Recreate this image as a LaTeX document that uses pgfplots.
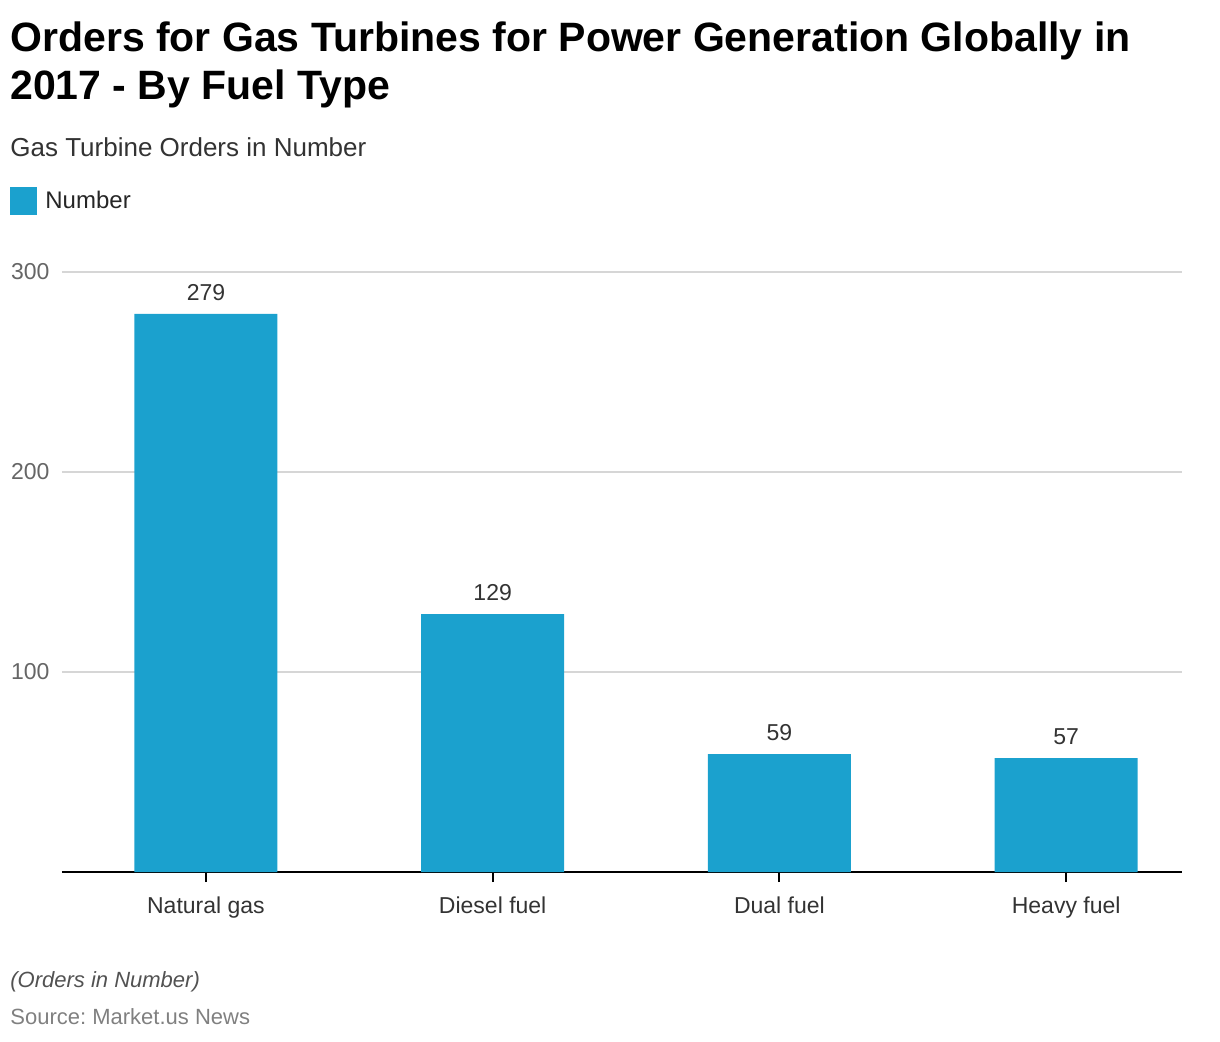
\documentclass[border=0pt]{standalone}
\usepackage{fontspec}
\setmainfont{Liberation Sans}
\usepackage{pgfplots}
\pgfplotsset{compat=1.18}
\frenchspacing
\definecolor{barblue}{HTML}{1BA1CE}
\definecolor{gridgray}{HTML}{D6D6D6}
\definecolor{ticktext}{HTML}{666666}
\definecolor{labtext}{HTML}{333333}
\begin{document}
\begin{tikzpicture}
% 1px = 0.5pt, picture 1220x1042 px
\path[use as bounding box] (0,0) rectangle (610pt,-521pt);
\node[anchor=base west,inner sep=0pt,font=\fontsize{20.5}{25}\selectfont\bfseries] at (5pt,-26pt) {Orders for Gas Turbines for Power Generation Globally in};
\node[anchor=base west,inner sep=0pt,font=\fontsize{20.5}{25}\selectfont\bfseries] at (5pt,-50pt) {2017 - By Fuel Type};
\node[anchor=base west,inner sep=0pt,font=\fontsize{13}{15}\selectfont,text=labtext] at (5pt,-78.5pt) {Gas Turbine Orders in Number};
\fill[barblue] (5pt,-93.5pt) rectangle (18.5pt,-107.5pt);
\node[anchor=base west,inner sep=0pt,font=\fontsize{12}{14}\selectfont,text=black!85] at (22.5pt,-104.5pt) {Number};
\node[anchor=base west,inner sep=0pt,font=\fontsize{11}{13}\selectfont\itshape,text=labtext!85] at (5pt,-493.5pt) {(Orders in Number)};
\node[anchor=base west,inner sep=0pt,font=\fontsize{11}{13}\selectfont,text=black!50] at (5pt,-512pt) {Source: Market.us News};
\begin{axis}[
    at={(31pt,-436pt)}, anchor=south west,
    scale only axis,
    width=560pt, height=300pt,
    xmin=-0.502, xmax=3.404,
    ymin=0, ymax=300,
    ybar, bar width=71.5pt,
    axis x line*=bottom, axis y line*=left,
    x axis line style={black, line width=1pt},
    y axis line style={draw=none},
    xtick={0,1,2,3},
    xticklabels={Natural gas, Diesel fuel, Dual fuel, Heavy fuel},
    x tick label style={font=\fontsize{11.5}{13}\selectfont, text=labtext, yshift=-4pt},
    xtick style={black, line width=1pt},
    ytick style={draw=none},
    tick align=outside, major tick length=5pt,
    ytick={100,200,300},
    y tick label style={font=\fontsize{11.5}{13}\selectfont, text=ticktext, xshift=2.3pt},
    ymajorgrids, grid style={gridgray, line width=0.8pt},
    /pgf/number format/assume math mode=true,
    nodes near coords,
    every node near coord/.append style={font=\fontsize{11.5}{13}\selectfont, text=labtext, yshift=3pt},
    clip=false,
]
\addplot[fill=barblue, draw=none] coordinates {(0,279) (1,129) (2,59) (3,57)};
\end{axis}
\end{tikzpicture}
\end{document}
